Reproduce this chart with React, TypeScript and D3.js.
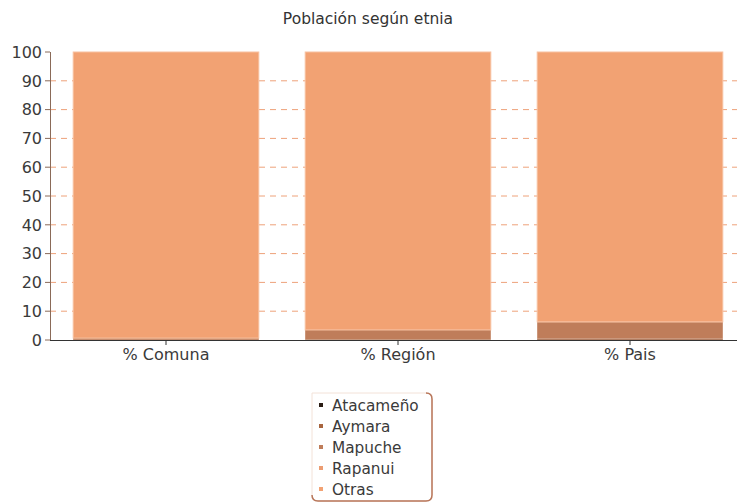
import React from "react";
import * as d3 from "d3";

const categories = ["% Comuna", "% Región", "% Pais"];
const seriesNames = ["Atacameño", "Aymara", "Mapuche", "Rapanui", "Otras"];
const atacameno = [0.02, 0.05, 0.1];
const aymara = [0.03, 0.1, 0.4];
const mapuche = [0.6, 3.3, 5.7];
const rapanui = [0.02, 0.05, 0.1];
const otras = [99.33, 96.5, 93.7];
const yTicks = [0, 10, 20, 30, 40, 50, 60, 70, 80, 90, 100];
const colors = ["#2a1c14", "#a8653f", "#bf7d5a", "#ec9d72", "#f2a273"];

const W = 737;
const H = 504;
const FONT = "'DejaVu Sans', Verdana, sans-serif";

export default function App() {
  const seriesValues = [atacameno, aymara, mapuche, rapanui, otras];
  const rows = categories.map((c, i) => {
    const r: any = { cat: c };
    seriesNames.forEach((s, k) => (r[s] = seriesValues[k][i]));
    return r;
  });
  const stacked = d3.stack().keys(seriesNames)(rows);

  const x = d3.scaleBand().domain(categories).range([50, 746]).paddingInner(0.2).paddingOuter(0.1);
  const y = d3.scaleLinear().domain([0, 100]).range([340, 52]);

  return (
    <div style={{ position: "absolute", left: 0, top: 0 }}>
      <svg width={W} height={H} style={{ display: "block" }} fontFamily={FONT}>
        <rect width={W} height={H} fill="#fff" />
        <text x={368} y={24} textAnchor="middle" fontSize={15.5} fill="#333">
          Población según etnia
        </text>
        {/* gridlines */}
        {yTicks.filter((t) => t > 0 && t < 100).map((t) => (
          <line key={t} x1={50} x2={W} y1={y(t)} y2={y(t)} stroke="#eea27a" strokeDasharray="6,5" strokeWidth={1} />
        ))}
        {/* bars */}
        {stacked.map((layer, k) =>
          layer.map((d, i) => {
            const h = y(d[0]) - y(d[1]);
            if (h <= 0) return null;
            return (
              <rect
                key={k + "-" + i}
                x={x(categories[i])!}
                y={y(d[1])}
                width={x.bandwidth()}
                height={h}
                fill={colors[k]}
                stroke={k === 4 ? "#f7c0a0" : "none"}
                strokeWidth={k === 4 ? 1 : 0}
              />
            );
          })
        )}
        {/* y axis */}
        <line x1={50.5} x2={50.5} y1={52} y2={340} stroke="#8a6a58" strokeWidth={1} />
        {yTicks.map((t) => (
          <g key={t}>
            <line x1={45} x2={50} y1={y(t)} y2={y(t)} stroke="#8a6a58" />
            <text x={42} y={y(t)} dy="0.36em" textAnchor="end" fontSize={16} fill="#3a3a3a">
              {t}
            </text>
          </g>
        ))}
        {/* x axis */}
        <line x1={50} x2={W} y1={340.5} y2={340.5} stroke="#333" strokeWidth={1} />
        {categories.map((c) => {
          const cx = x(c)! + x.bandwidth() / 2;
          return (
            <g key={c}>
              <line x1={cx} x2={cx} y1={340} y2={345} stroke="#333" />
              <text x={cx} y={360} textAnchor="middle" fontSize={16} fill="#3a3a3a">
                {c}
              </text>
            </g>
          );
        })}
        {/* legend */}
        <path
          d="M312,393 L426,393 Q432,393 432,399 L432,495 Q432,501 426,501 L318,501 Q312,501 312,495 Z"
          fill="#fff"
          stroke="#f3e2d8"
          strokeWidth={1}
        />
        <path d="M426,393 Q432,393 432,399 L432,495 Q432,501 426,501 L318,501 Q312,501 312,495" fill="none" stroke="#b8765a" strokeWidth={1.5} />
        {seriesNames.map((s, k) => (
          <g key={s}>
            <rect x={319} y={403 + k * 21} width={4} height={4} fill={colors[k]} />
            <text x={332} y={405 + k * 21} dy="0.36em" fontSize={15.3} fill="#3a3a3a">
              {s}
            </text>
          </g>
        ))}
      </svg>
    </div>
  );
}
